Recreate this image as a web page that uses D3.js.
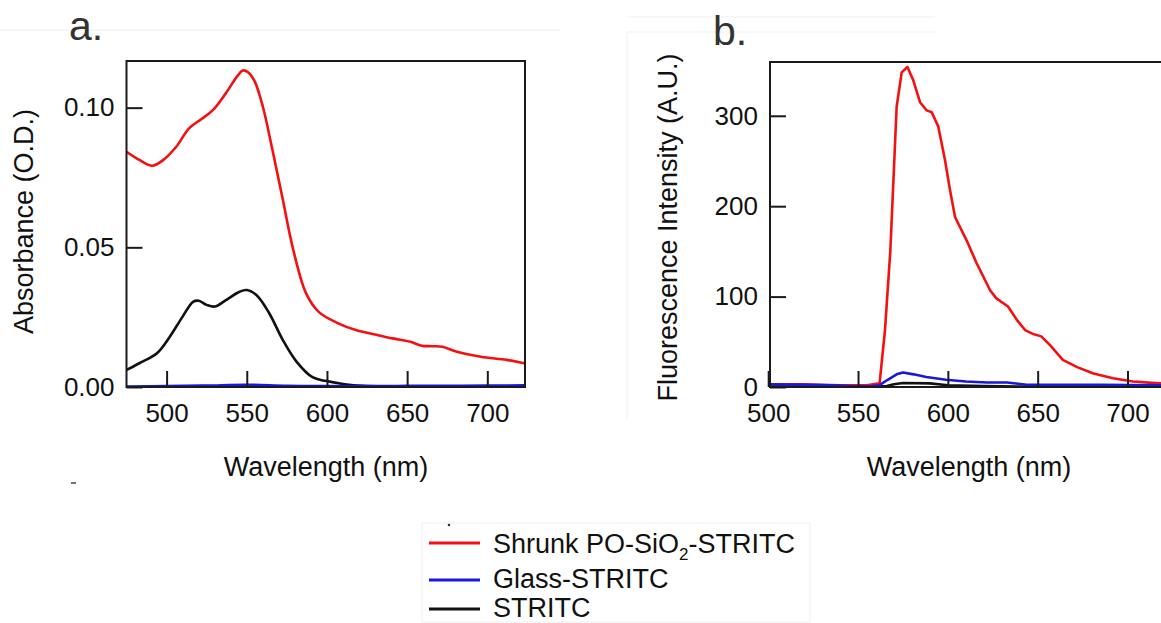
<!DOCTYPE html>
<html>
<head>
<meta charset="utf-8">
<script src="https://cdn.jsdelivr.net/npm/d3@7"></script>
<style>
  body { margin: 0; background: #fff; }
  svg { display: block; font-family: "Liberation Sans", Arial, sans-serif; }
  .tick text { font-size: 26px; fill: #111; }
  .tick line { stroke: #1a1a1a; stroke-width: 2; }
</style>
</head>
<body>
<div id="chart"></div>
<script>
// panel a: absorbance, [wavelength, O.D.]
var absShrunk = [[475,0.0842],[483,0.0813],[491,0.0792],[498,0.0813],[506,0.0860],[514,0.0926],[522,0.0960],[529,0.0992],[537,0.1052],[544,0.1112],[547.5,0.1133],[551,0.1126],[555,0.1093],[560,0.1004],[566,0.0849],[572.5,0.0670],[579,0.0491],[587,0.0335],[595,0.0268],[607,0.0228],[618,0.0204],[630,0.0188],[641,0.0174],[652,0.0162],[659,0.0148],[666,0.0146],[672,0.0144],[681,0.0126],[696,0.0108],[712,0.0097],[723,0.0085]];
var absStritc = [[475,0.0061],[483,0.0085],[494,0.0121],[502,0.0180],[510,0.0252],[516.5,0.0305],[520,0.0309],[525,0.0294],[530,0.0288],[537,0.0311],[545.5,0.0341],[550,0.0347],[556,0.0329],[564,0.0264],[572.5,0.0168],[581,0.0091],[591,0.0035],[599,0.0022],[610,0.0011],[623,0.0004],[640,0.0002],[680,0.0001],[723,0.0001]];
var absGlass = [[475,0.0002],[500,0.0003],[525,0.0005],[550,0.0008],[575,0.0004],[600,0.0003],[625,0.0003],[650,0.0004],[675,0.0004],[700,0.0005],[723,0.0006]];

// panel b: fluorescence, [wavelength, A.U.]
var flShrunk = [[501,3],[520,3],[540,2],[555,2],[562,4],[565,63],[568,151],[571.5,310],[574.3,348],[577.5,354],[580.8,339],[584.5,315],[588.2,306],[591,304],[594.7,288],[598.4,251],[601.2,218],[604,188],[610.5,162],[616,137],[623.5,107],[627,98],[633.5,89],[638.5,74],[643,63],[647,59],[652,56],[657,46],[664,30],[672,22],[681,15],[692,9.6],[703,6],[718,4],[727,3.5]];
var flGlass = [[501,3],[520,2.5],[540,1.5],[549,0.5],[558,1],[562,2],[566.5,8],[571.5,14],[575,16],[581,14],[588,11],[599,8],[610,6],[622,5],[633,5],[644,2.5],[660,2.5],[685,2.5],[718,2],[727,2]];
var flStritc = [[501,0.5],[560,0.5],[566,1],[570,3],[575,4.5],[590,4],[600,2],[620,1],[640,0.5],[727,0.3]];

var xTicks = [500, 550, 600, 650, 700];
var absTicks = [0, 0.05, 0.10];
var flTicks = [0, 100, 200, 300];

var seriesNames = ["Shrunk PO-SiO", "Glass-STRITC", "STRITC"];
var seriesColors = ["#f41010", "#1818d8", "#111111"];

var width = 1161, height = 623;

var svg = d3.select("#chart").append("svg")
  .attr("width", width)
  .attr("height", height);

// faint panel borders left over from the source figure
svg.append("line").attr("x1", 0).attr("x2", 560).attr("y1", 30).attr("y2", 30)
  .attr("stroke", "#f5f5f5").attr("stroke-width", 1.5);
svg.append("line").attr("x1", 627).attr("x2", 935).attr("y1", 17).attr("y2", 17)
  .attr("stroke", "#f6f6f6").attr("stroke-width", 1.5);
svg.append("line").attr("x1", 627).attr("x2", 935).attr("y1", 32).attr("y2", 32)
  .attr("stroke", "#f5f5f5").attr("stroke-width", 1.5);
svg.append("line").attr("x1", 627).attr("x2", 627).attr("y1", 32).attr("y2", 420)
  .attr("stroke", "#f6f6f6").attr("stroke-width", 1.5);

// draws one panel
function panel(opt) {
  var x = d3.scaleLinear().domain(opt.xDomain).range([opt.left, opt.right]);
  var y = d3.scaleLinear().domain(opt.yDomain).range([opt.bottom, opt.top]);

  var clipId = "clip-" + opt.name;
  svg.append("clipPath").attr("id", clipId)
    .append("rect")
    .attr("x", opt.left).attr("y", opt.top)
    .attr("width", opt.right - opt.left).attr("height", opt.bottom - opt.top);

  var line = d3.line()
    .x(function(d) { return x(d[0]); })
    .y(function(d) { return y(d[1]); })
    .curve(opt.curve);

  var g = svg.append("g").attr("clip-path", "url(#" + clipId + ")");
  opt.series.forEach(function(s) {
    g.append("path")
      .datum(s.data)
      .attr("fill", "none")
      .attr("stroke", s.color)
      .attr("stroke-width", 2.6)
      .attr("stroke-linejoin", "round")
      .attr("d", line);
  });

  // frame
  svg.append("rect")
    .attr("x", opt.left).attr("y", opt.top)
    .attr("width", opt.right - opt.left).attr("height", opt.bottom - opt.top)
    .attr("fill", "none")
    .attr("stroke", "#1a1a1a")
    .attr("stroke-width", 2);

  // axes with ticks pointing inward
  var xAxis = d3.axisBottom(x).tickValues(xTicks).tickSize(-16).tickPadding(16.5)
    .tickFormat(d3.format("d"));
  var yAxis = d3.axisLeft(y).tickValues(opt.yTicks).tickSize(-16).tickPadding(12)
    .tickFormat(opt.yFormat);

  var gx = svg.append("g")
    .attr("transform", "translate(0," + opt.bottom + ")")
    .call(xAxis);
  gx.select(".domain").remove();
  gx.selectAll("text").attr("font-size", 26).attr("font-family", null);

  var gy = svg.append("g")
    .attr("transform", "translate(" + opt.left + ",0)")
    .call(yAxis);
  gy.select(".domain").remove();
  gy.selectAll("text").attr("font-size", 26).attr("font-family", null);

  // axis titles
  svg.append("text")
    .attr("x", opt.xTitleX).attr("y", 476)
    .attr("text-anchor", "middle")
    .attr("font-size", 27)
    .attr("fill", "#111")
    .text("Wavelength (nm)");

  svg.append("text")
    .attr("transform", "translate(" + opt.yTitleX + "," + opt.yTitleY + ")rotate(-90)")
    .attr("text-anchor", "middle")
    .attr("font-size", 27)
    .attr("fill", "#111")
    .text(opt.yTitle);

  // panel letter
  svg.append("text")
    .attr("x", opt.letterX).attr("y", opt.letterY)
    .attr("font-size", 41)
    .attr("fill", "#333")
    .text(opt.letter);
}

panel({
  name: "a",
  xDomain: [475, 723.5], yDomain: [0, 0.1167],
  left: 126.5, right: 525, top: 61, bottom: 387,
  yTicks: absTicks, yFormat: d3.format(".2f"),
  curve: d3.curveCatmullRom,
  series: [
    {data: absShrunk, color: seriesColors[0]},
    {data: absStritc, color: seriesColors[2]},
    {data: absGlass, color: seriesColors[1]}
  ],
  xTitleX: 326, yTitleX: 33, yTitleY: 221.5,
  yTitle: "Absorbance (O.D.)",
  letter: "a.", letterX: 69, letterY: 40
});

panel({
  name: "b",
  xDomain: [501, 727], yDomain: [0, 359.5],
  left: 770, right: 1176, top: 62, bottom: 387,
  yTicks: flTicks, yFormat: d3.format("d"),
  curve: d3.curveLinear,
  series: [
    {data: flShrunk, color: seriesColors[0]},
    {data: flStritc, color: seriesColors[2]},
    {data: flGlass, color: seriesColors[1]}
  ],
  xTitleX: 969, yTitleX: 677, yTitleY: 227.5,
  yTitle: "Fluorescence Intensity (A.U.)",
  letter: "b.", letterX: 713, letterY: 45
});

// stray marks from the source figure
svg.append("line").attr("x1", 71).attr("x2", 76).attr("y1", 483).attr("y2", 483)
  .attr("stroke", "#444").attr("stroke-width", 1.5);

// legend
var legend = svg.append("g");
legend.append("rect")
  .attr("x", 422).attr("y", 523).attr("width", 388).attr("height", 99)
  .attr("fill", "none").attr("stroke", "#f5f5f5").attr("stroke-width", 1.5);
legend.append("circle").attr("cx", 449).attr("cy", 525).attr("r", 1.3).attr("fill", "#333");

var legendY = [543, 580, 609];
var legendBase = [553, 588, 617];
seriesNames.forEach(function(name, i) {
  legend.append("line")
    .attr("x1", 429).attr("x2", 480)
    .attr("y1", legendY[i]).attr("y2", legendY[i])
    .attr("stroke", seriesColors[i])
    .attr("stroke-width", 3);
  var t = legend.append("text")
    .attr("x", 493).attr("y", legendBase[i])
    .attr("font-size", 27)
    .attr("fill", "#111")
    .text(name);
  if (i === 0) {
    t.append("tspan").attr("font-size", 17).attr("dy", 7).text("2");
    t.append("tspan").attr("dy", -7).text("-STRITC");
  }
});
</script>
</body>
</html>
